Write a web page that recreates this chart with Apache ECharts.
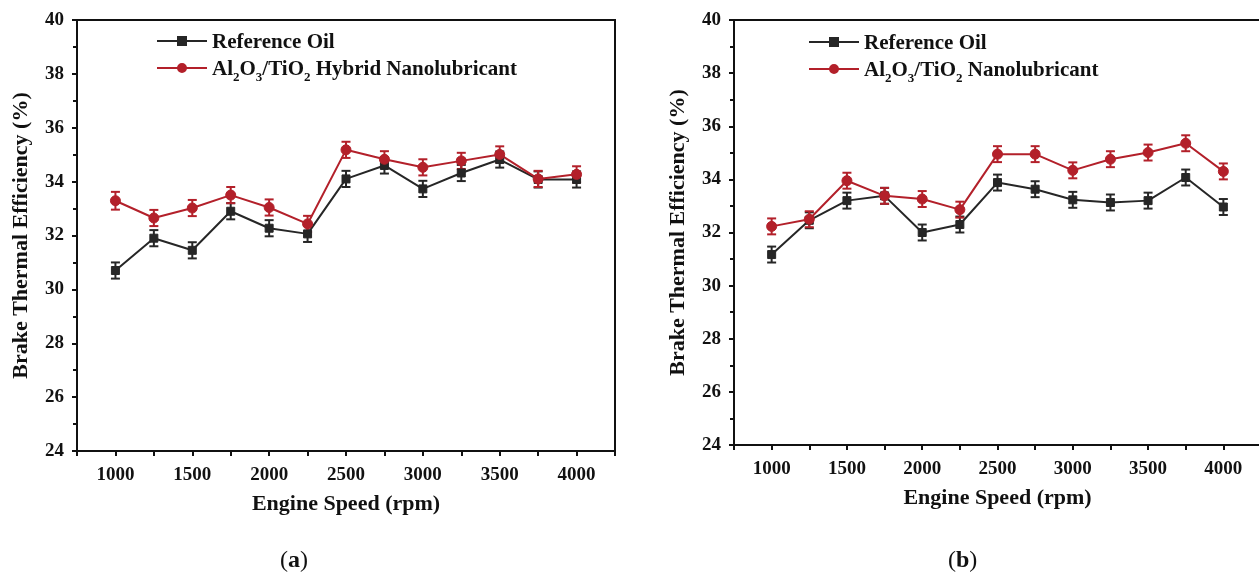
<!DOCTYPE html>
<html>
<head>
<meta charset="utf-8">
<script src="https://cdn.jsdelivr.net/npm/echarts@6/dist/echarts.min.js"></script>
<style>
html,body{margin:0;padding:0;background:#fff;}
#c{width:1259px;height:576px;}
</style>
</head>
<body>
<div id="c"></div>
<script>
// ---- data ----
const speeds = [1000, 1250, 1500, 1750, 2000, 2250, 2500, 2750, 3000, 3250, 3500, 3750, 4000];
const refA  = [30.7, 31.9, 31.45, 32.9, 32.27, 32.06, 34.1, 34.6, 33.73, 34.32, 34.82, 34.08, 34.08];
const nanoA = [33.29, 32.65, 33.02, 33.5, 33.04, 32.43, 35.18, 34.83, 34.53, 34.77, 35.01, 34.1, 34.27];
const refB  = [31.17, 32.46, 33.2, 33.38, 32.0, 32.3, 33.88, 33.63, 33.23, 33.13, 33.2, 34.07, 32.96];
const nanoB = [32.23, 32.5, 33.95, 33.38, 33.26, 32.86, 34.95, 34.95, 34.34, 34.76, 35.01, 35.36, 34.3];
const errRefA  = [0.3, 0.3, 0.3, 0.3, 0.3, 0.3, 0.3, 0.3, 0.3, 0.3, 0.3, 0.3, 0.3];
const errNanoA = [0.33, 0.3, 0.3, 0.3, 0.3, 0.3, 0.3, 0.3, 0.3, 0.3, 0.3, 0.3, 0.3];
const errRefB  = [0.3, 0.3, 0.3, 0.3, 0.3, 0.3, 0.3, 0.3, 0.3, 0.3, 0.3, 0.3, 0.3];
const errNanoB = [0.3, 0.3, 0.3, 0.3, 0.3, 0.3, 0.3, 0.3, 0.3, 0.3, 0.3, 0.3, 0.3];
const nameRef = 'Reference Oil';
const nameHybrid = 'Al2O3/TiO2 Hybrid Nanolubricant';
const nameNano = 'Al2O3/TiO2 Nanolubricant';
const xTitle = 'Engine Speed (rpm)';
const yTitle = 'Brake Thermal Efficiency (%)';

// ---- style ----
const BLACK = '#262626';
const RED = '#b3202a';
const FONT = '"Liberation Serif", "DejaVu Serif", serif';

function pts(xs, ys) { return xs.map((x, i) => [x, ys[i]]); }
function errPts(xs, ys, es) { return xs.map((x, i) => [x, ys[i] - es[i], ys[i] + es[i]]); }

function errSeries(idx, data, color) {
  return {
    type: 'custom', xAxisIndex: idx, yAxisIndex: idx, data: data, z: 3, silent: true,
    renderItem: function (params, api) {
      const x = api.value(0);
      const lo = api.coord([x, api.value(1)]);
      const hi = api.coord([x, api.value(2)]);
      const w = 4.5;
      const st = { stroke: color, lineWidth: 2 };
      return { type: 'group', children: [
        { type: 'line', shape: { x1: lo[0], y1: lo[1], x2: hi[0], y2: hi[1] }, style: st },
        { type: 'line', shape: { x1: lo[0] - w, y1: lo[1], x2: lo[0] + w, y2: lo[1] }, style: st },
        { type: 'line', shape: { x1: hi[0] - w, y1: hi[1], x2: hi[0] + w, y2: hi[1] }, style: st }
      ]};
    }
  };
}
function lineSeries(idx, name, data, color, symbol, size) {
  return {
    type: 'line', name: name, xAxisIndex: idx, yAxisIndex: idx, data: data, z: 4,
    symbol: symbol, symbolSize: size, showAllSymbol: true,
    lineStyle: { color: color, width: 2 }, itemStyle: { color: color, borderColor: color, borderWidth: 1 }
  };
}
function xAx(idx) {
  return {
    type: 'value', gridIndex: idx, min: 750, max: 4250, interval: 250,
    name: xTitle, nameLocation: 'middle', nameGap: 42,
    nameTextStyle: { fontFamily: FONT, fontWeight: 'bold', fontSize: 22, color: '#111' },
    axisLine: { show: true, onZero: false, lineStyle: { color: '#111', width: 2 } },
    axisTick: { show: true, inside: false, length: 5, lineStyle: { color: '#111', width: 2 } },
    axisLabel: { fontFamily: FONT, fontWeight: 'bold', fontSize: 19, color: '#111', margin: 15,
      formatter: v => (v % 500 === 0 ? String(v) : '') },
    splitLine: { show: false }
  };
}
function yAx(idx) {
  return {
    type: 'value', gridIndex: idx, min: 24, max: 40, interval: 2,
    name: yTitle, nameLocation: 'middle', nameGap: 45,
    nameTextStyle: { fontFamily: FONT, fontWeight: 'bold', fontSize: 22, color: '#111' },
    axisLine: { show: true, lineStyle: { color: '#111', width: 2 } },
    axisTick: { show: true, inside: false, length: 5, lineStyle: { color: '#111', width: 2 } },
    minorTick: { show: true, splitNumber: 2, length: 4, lineStyle: { color: '#111', width: 2 } },
    axisLabel: { fontFamily: FONT, fontWeight: 'bold', fontSize: 19, color: '#111', margin: 13 },
    splitLine: { show: false }
  };
}
const rich = {
  n: { fontFamily: FONT, fontWeight: 'bold', fontSize: 21, color: '#111', lineHeight: 24, verticalAlign: 'bottom' },
  s: { fontFamily: FONT, fontWeight: 'bold', fontSize: 13, color: '#111', lineHeight: 24, verticalAlign: 'bottom', padding: [0, 0, -4, 0] }
};
function fmtName(name) {
  if (name.indexOf('Al2O3') === 0) {
    const rest = name.replace('Al2O3/TiO2', '');
    return '{n|Al}{s|2}{n|O}{s|3}{n|/TiO}{s|2}{n|' + rest + '}';
  }
  return '{n|' + name + '}';
}
function legend(left, top, data) {
  return {
    left: left, top: top, orient: 'vertical', itemWidth: 50, itemHeight: 10, itemGap: 6,
    data: data, formatter: fmtName, textStyle: { rich: rich }, selectedMode: false
  };
}

const chart = echarts.init(document.getElementById('c'), null, { renderer: 'canvas' });
chart.setOption({
  backgroundColor: '#fff',
  animation: false,
  grid: [
    { left: 77, top: 20, width: 538, height: 431, show: true, borderColor: '#111', borderWidth: 2,
      backgroundColor: 'transparent', outerBoundsMode: 'none', containLabel: false },
    { left: 734, top: 20, width: 527, height: 425, show: true, borderColor: '#111', borderWidth: 2,
      backgroundColor: 'transparent', outerBoundsMode: 'none', containLabel: false }
  ],
  xAxis: [xAx(0), xAx(1)],
  yAxis: [yAx(0), yAx(1)],
  legend: [
    legend(151, 27, [nameRef, nameHybrid]),
    legend(803, 28, [nameRef, nameNano])
  ],
  graphic: [
    { type: 'text', left: 280, top: 549, style: { text: '({b|a})', font: '24px ' + FONT, fill: '#111',
      rich: { b: { fontFamily: FONT, fontWeight: 'bold', fontSize: 24, fill: '#111' } } } },
    { type: 'text', left: 948, top: 549, style: { text: '({b|b})', font: '24px ' + FONT, fill: '#111',
      rich: { b: { fontFamily: FONT, fontWeight: 'bold', fontSize: 24, fill: '#111' } } } }
  ],
  series: [
    errSeries(0, errPts(speeds, refA, errRefA), BLACK),
    errSeries(0, errPts(speeds, nanoA, errNanoA), RED),
    lineSeries(0, nameRef, pts(speeds, refA), BLACK, 'rect', 8),
    lineSeries(0, nameHybrid, pts(speeds, nanoA), RED, 'circle', 10),
    errSeries(1, errPts(speeds, refB, errRefB), BLACK),
    errSeries(1, errPts(speeds, nanoB, errNanoB), RED),
    lineSeries(1, nameRef, pts(speeds, refB), BLACK, 'rect', 8),
    lineSeries(1, nameNano, pts(speeds, nanoB), RED, 'circle', 10)
  ]
});
</script>
</body>
</html>
